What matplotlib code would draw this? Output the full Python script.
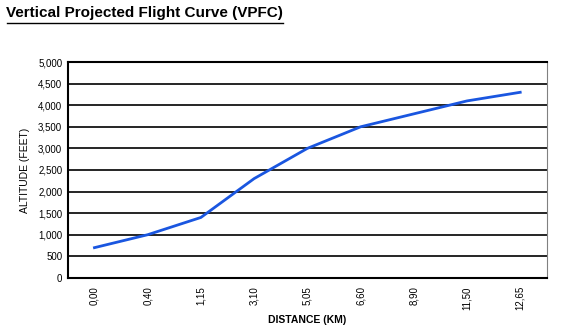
import matplotlib.pyplot as plt
import numpy as np

plt.rcParams['font.family'] = ['Liberation Sans', 'DejaVu Sans']

distance = ["0,00", "0,40", "1,15", "3,10", "5,05", "6,60", "8,90", "11,50", "12,65"]
altitude = [700, 1000, 1400, 2300, 3000, 3500, 3800, 4100, 4300]
yticks = [0, 500, 1000, 1500, 2000, 2500, 3000, 3500, 4000, 4500, 5000]

fig = plt.figure(figsize=(5.75, 3.25), dpi=100)
ax = fig.add_axes([0.118, 0.145, 0.833, 0.664])

x = np.arange(len(distance))
ax.plot(x, altitude, color="#1a56e0", lw=2)

ax.set_xlim(-0.5, len(distance) - 0.5)
ax.set_ylim(0, 5000)
ax.set_yticks(yticks)
ax.set_yticklabels([f"{v:,}" for v in yticks], fontsize=7)
ax.set_xticks(x)
ax.set_xticklabels(distance, rotation=90, fontsize=7)
ax.tick_params(length=0, pad=4)
ax.tick_params(axis='x', pad=6)
ax.grid(axis='y', color='black', lw=1.2)
ax.set_axisbelow(True)
for s in ['left', 'bottom', 'top']:
    ax.spines[s].set_linewidth(1.5)
ax.spines['right'].set_color('#808080')
ax.set_xlabel("DISTANCE (KM)", fontsize=7.5, fontweight='bold', labelpad=3)
ax.set_ylabel("ALTITUDE (FEET)", fontsize=7.5, labelpad=6)

fig.text(0.01, 0.96, "Vertical Projected Flight Curve (VPFC)", fontsize=11,
         fontweight='bold', va='center')
fig.add_artist(plt.Line2D([0.012, 0.492], [0.928, 0.928], color='black', lw=1))

fig.savefig("out.png", dpi=100)
